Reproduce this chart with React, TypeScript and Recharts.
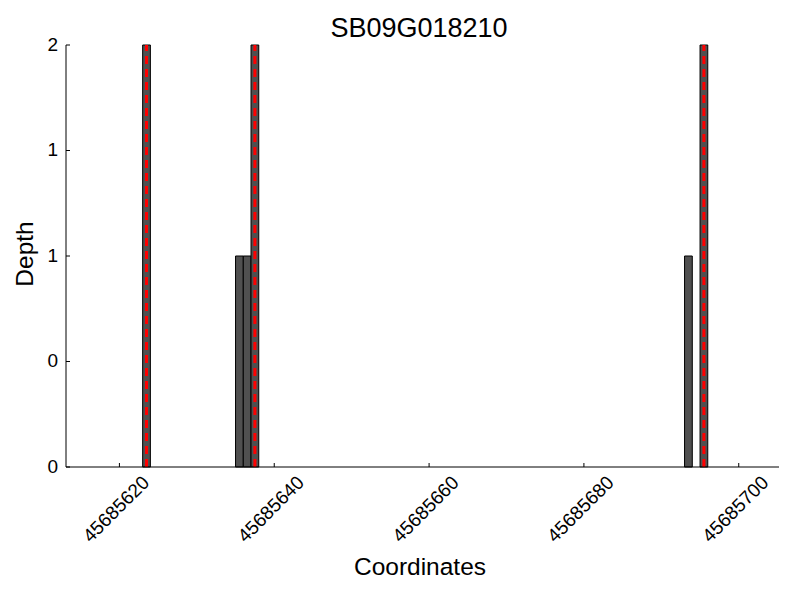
import React from "react";
import {
  ComposedChart,
  XAxis,
  YAxis,
  ReferenceArea,
  ReferenceLine,
} from "recharts";

document.body.style.margin = "0";

// Read-depth bins: start coordinate of each 1bp bin and its depth
const binStarts = [45685623, 45685635, 45685636, 45685637, 45685693, 45685695];
const binDepths = [2, 1, 1, 2, 1, 2];
// Red dashed markers (centre of the marked bins)
const markers = [45685623.5, 45685637.5, 45685695.5];
const xTicks = [45685620, 45685640, 45685660, 45685680, 45685700];
const yTicks = [0, 0.5, 1, 1.5, 2];

const FONT = "'Liberation Sans', Arial, Helvetica, sans-serif";
const BAR_FILL = "#505050";

const rows = binStarts.map((start, i) => ({ start, depth: binDepths[i] }));

function XTick(props: any) {
  const { x, y, payload } = props;
  return (
    <g>
      <line x1={x} y1={y} x2={x} y2={y - 4} stroke="#000" strokeWidth={1} />
      <text
        transform={`translate(${x - 3.5},${y + 42}) rotate(-45)`}
        textAnchor="middle"
        dominantBaseline="central"
        fontFamily={FONT}
        fontSize={19}
        fill="#000"
      >
        {payload.value}
      </text>
    </g>
  );
}

function YTick(props: any) {
  const { x, y, payload } = props;
  return (
    <g>
      <line x1={x} y1={y} x2={x + 4} y2={y} stroke="#000" strokeWidth={1} />
      <text
        x={x - 8}
        y={y - 1}
        textAnchor="end"
        dominantBaseline="central"
        fontFamily={FONT}
        fontSize={19}
        fill="#000"
      >
        {Math.floor(payload.value)}
      </text>
    </g>
  );
}

export default function App() {
  return (
    <div style={{ width: 800, height: 600, background: "#fff" }}>
      <ComposedChart
        width={800}
        height={600}
        data={rows}
        margin={{ top: 45, right: 21, bottom: 33, left: 6 }}
      >
        <XAxis
          dataKey="start"
          type="number"
          domain={[45685613.1, 45685705.2]}
          allowDataOverflow
          ticks={xTicks}
          interval={0}
          tickSize={0}
          tickMargin={0}
          tickLine={false}
          height={100}
          axisLine={{ stroke: "#000", strokeWidth: 1 }}
          tick={<XTick />}
        />
        <YAxis
          type="number"
          domain={[0, 2]}
          allowDataOverflow
          ticks={yTicks}
          interval={0}
          tickSize={0}
          tickMargin={0}
          tickLine={false}
          width={60}
          axisLine={{ stroke: "#000", strokeWidth: 1 }}
          tick={<YTick />}
        />
        {rows.map((r) => (
          <ReferenceArea
            key={`bin-${r.start}`}
            x1={r.start}
            x2={r.start + 1}
            y1={0}
            y2={r.depth}
            fill={BAR_FILL}
            fillOpacity={1}
            stroke="#000"
            strokeWidth={1}
            strokeOpacity={1}
          />
        ))}
        {markers.map((m) => (
          <ReferenceLine
            key={`mark-${m}`}
            x={m}
            stroke="#ff0000"
            strokeWidth={3}
            strokeDasharray="8 5"
          />
        ))}
        <text
          x={419}
          y={37}
          textAnchor="middle"
          fontFamily={FONT}
          fontSize={27}
          fill="#000"
        >
          SB09G018210
        </text>
        <text
          x={420}
          y={575}
          textAnchor="middle"
          fontFamily={FONT}
          fontSize={24.5}
          fill="#000"
        >
          Coordinates
        </text>
        <text
          transform="translate(33,254) rotate(-90)"
          textAnchor="middle"
          fontFamily={FONT}
          fontSize={24.5}
          fill="#000"
        >
          Depth
        </text>
      </ComposedChart>
    </div>
  );
}
